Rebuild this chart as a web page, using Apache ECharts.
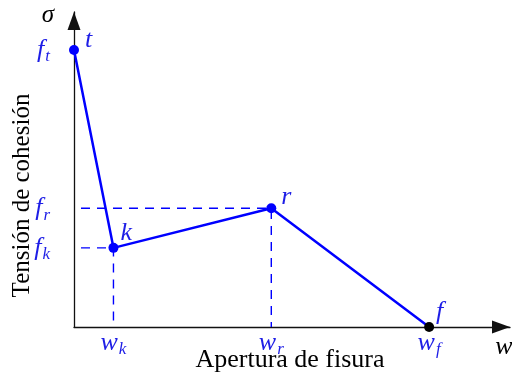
<!DOCTYPE html>
<html>
<head>
<meta charset="utf-8">
<script src="https://cdn.jsdelivr.net/npm/echarts@6/dist/echarts.min.js"></script>
<style>html,body{margin:0;padding:0;background:#fff}#c{width:512px;height:374px}</style>
</head>
<body>
<div id="c"></div>
<script>
// Cohesive law: stress vs crack opening (piecewise linear softening)
var pointNames = ['t', 'k', 'r', 'f'];
var openings = [0, 1, 5, 9];       // w values
var stresses = [7, 2, 3, 0];       // sigma values
var xTicks = {1: ['w', 'k'], 5: ['w', 'r'], 9: ['w', 'f']};
var yTicks = {2: ['f', 'k'], 3: ['f', 'r'], 7: ['f', 't']};
var xTitle = 'Apertura de fisura';
var yTitle = 'Tensión de cohesión';
var xMax = 11.05, yMax = 7.96;

var BLUE = '#0000ff';
var TXT = '#1e1ee6';
var SERIF = '"Liberation Serif", "DejaVu Serif", serif';

// label placement for each point name (pixels, relative to the marker box)
var nameOffsets = [[16, -18], [12, -23], [15, -19], [12, -23]];

var curve = openings.map(function (w, i) {
  return {value: [w, stresses[i]], label: {position: nameOffsets[i]}};
});
var guideK = [[0, stresses[1]], [openings[1], stresses[1]], [openings[1], 0]];
var guideR = [[0, stresses[2]], [openings[2], stresses[2]], [openings[2], 0]];

var rich = {
  a: {fontFamily: SERIF, fontStyle: 'italic', fontSize: 26, color: TXT, lineHeight: 28},
  s: {fontFamily: SERIF, fontStyle: 'italic', fontSize: 17, color: TXT, padding: [14, 0, 0, 1], lineHeight: 28}
};

var axisLine = {
  lineStyle: {color: '#111', width: 1.3},
  symbol: ['none', 'triangle'], symbolSize: [13, 18], symbolOffset: [0, -9]
};
var guideStyle = {color: BLUE, width: 1.4, type: [9, 7], dashOffset: 9};

var chart = echarts.init(document.getElementById('c'));
chart.setOption({
  animation: false,
  grid: {left: 74, right: 2, top: 12, bottom: 47},
  xAxis: {
    type: 'value', min: 0, max: xMax, interval: 1,
    axisLine: axisLine,
    axisTick: {show: false}, splitLine: {show: false},
    axisLabel: {
      margin: 2, rich: rich, showMaxLabel: false,
      formatter: function (v) { var t = xTicks[v]; return t ? '{a|' + t[0] + '}{s|' + t[1] + '}' : ''; }
    }
  },
  yAxis: {
    type: 'value', min: 0, max: yMax, interval: 1,
    axisLine: axisLine,
    axisTick: {show: false}, splitLine: {show: false},
    axisLabel: {
      margin: 24, rich: rich, showMaxLabel: false,
      formatter: function (v) { var t = yTicks[v]; return t ? '{a|' + t[0] + '}{s|' + t[1] + '}' : ''; }
    }
  },
  series: [
    {type: 'line', data: guideK, symbol: 'none', lineStyle: guideStyle, z: 1},
    {type: 'line', data: guideR, symbol: 'none', lineStyle: guideStyle, z: 1},
    {
      type: 'line', data: curve, symbol: 'circle', symbolSize: 10,
      lineStyle: {color: BLUE, width: 2.5}, z: 3,
      itemStyle: {color: function (p) { return p.dataIndex === 3 ? '#000' : BLUE; }},
      label: {
        show: true,
        fontFamily: SERIF, fontStyle: 'italic', fontSize: 26, color: TXT,
        formatter: function (p) { return pointNames[p.dataIndex]; }
      }
    }
  ]
});

// axis symbols and titles
var origin = chart.convertToPixel({gridIndex: 0}, [0, 0]);
var yEnd = chart.convertToPixel({gridIndex: 0}, [0, yMax]);
var xEnd = chart.convertToPixel({gridIndex: 0}, [xMax, 0]);
chart.setOption({
  graphic: [
    {type: 'text', x: yEnd[0] - 26, y: yEnd[1] + 3, style: {text: 'σ', font: 'italic 25px ' + SERIF, fill: '#000', align: 'center', verticalAlign: 'middle'}},
    {type: 'text', x: xEnd[0] - 6, y: origin[1] + 20, style: {text: 'w', font: 'italic 26px ' + SERIF, fill: '#000', align: 'center', verticalAlign: 'middle'}},
    {type: 'text', x: 290, y: origin[1] + 33, style: {text: xTitle, font: '26px ' + SERIF, fill: '#000', align: 'center', verticalAlign: 'middle'}},
    {type: 'text', x: 22, y: (origin[1] + yEnd[1]) / 2 + 26, rotation: Math.PI / 2, style: {text: yTitle, font: '25px ' + SERIF, fill: '#000', align: 'center', verticalAlign: 'middle'}}
  ]
});
</script>
</body>
</html>
